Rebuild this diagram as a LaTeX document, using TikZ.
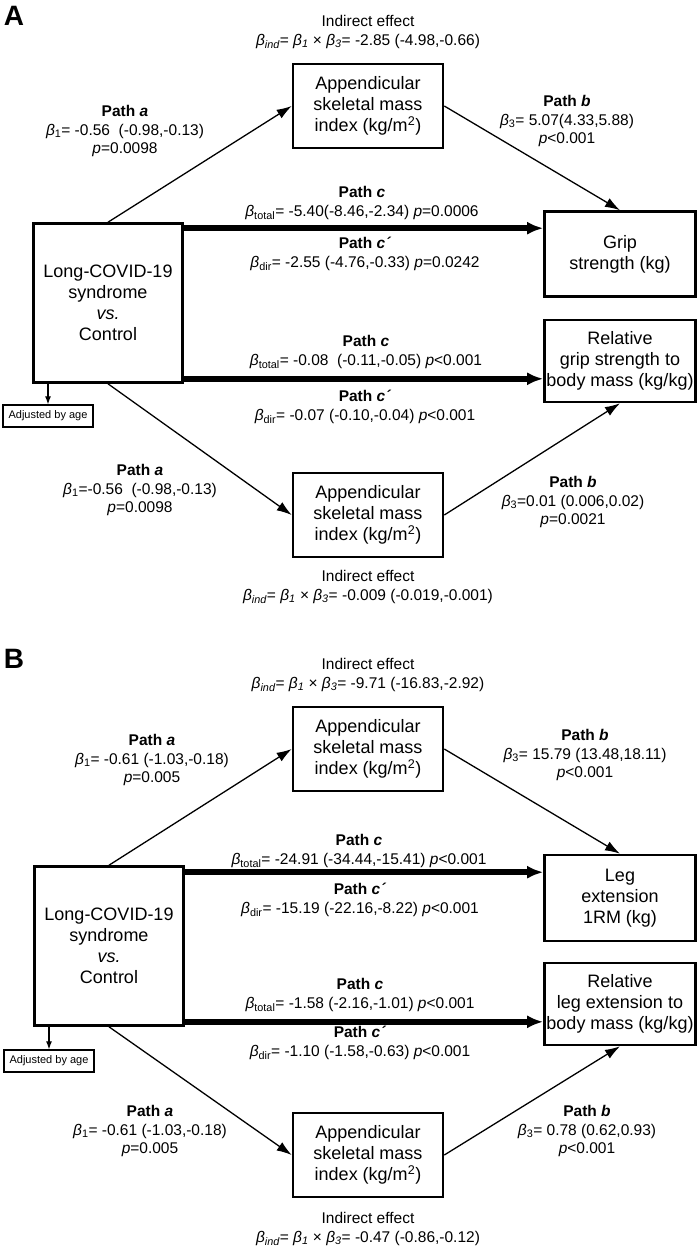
\documentclass[tikz,border=0pt]{standalone}
\usepackage{fontspec}
\setmainfont{Liberation Sans}
\usetikzlibrary{arrows.meta}
\newcommand{\bt}[1]{\textit{β}\textsubscript{#1}}
\newcommand{\bind}{\textit{β\textsubscript{ind}}= \textit{β\textsubscript{1}} × \textit{β\textsubscript{3}}=}
\begin{document}
\begin{tikzpicture}[x=1pt,y=-1pt]
			\tikzstyle{box} = [draw, line width=2.6pt, align=center, inner sep=0, font=\fontsize{18}{21}\selectfont]
			\tikzstyle{lbl} = [align=center, inner sep=0, font=\fontsize{15.5}{18.5}\selectfont]
			\tikzstyle{adjbox} = [draw, line width=1.3pt, inner sep=0, minimum width=90, minimum height=22, font=\fontsize{11}{11}\selectfont]
			\tikzstyle{patharrow} = [-{Latex[length=15pt,width=10pt]}, line width=1.3pt]
			\tikzstyle{bigarrow} = [-{Latex[length=16pt,width=13pt]}, line width=5.5pt]
			\tikzstyle{agearrow} = [-{Latex[length=8pt,width=6pt]}, line width=1.2pt]
			\tikzstyle{letter} = [inner sep=0, font=\fontsize{28}{28}\selectfont\bfseries]
			\useasboundingbox (0,0) rectangle (700,1250);
			\node [letter] (letA) at (14,16) {A};
			\node [box, minimum width=150, minimum height=84] (asmiTopA) at (368,106) {Appendicular\\skeletal mass\\index (kg/m\textsuperscript{2})};
			\node [box, minimum width=149, minimum height=159] (covidA) at (108,303) {Long-COVID-19\\syndrome\\\textit{vs.}\\Control};
			\node [box, minimum width=151, minimum height=85] (gripA) at (620,254) {Grip\\strength (kg)};
			\node [box, minimum width=151, minimum height=82] (relA) at (620,361) {Relative\\grip strength to\\body mass (kg/kg)};
			\node [box, minimum width=150, minimum height=84] (asmiBotA) at (368,515) {Appendicular\\skeletal mass\\index (kg/m\textsuperscript{2})};
			\node [adjbox] (adjA) at (48,416) {Adjusted by age};
			\node [lbl] (indTopA) at (368,32) {Indirect effect\\\bind{}  -2.85 (-4.98,-0.66)};
			\node [lbl] (paTopA) at (125,131) {\textbf{Path \textit{a}}\\\bt{1}= -0.56\ \ (-0.98,-0.13)\\\textit{p}=0.0098};
			\node [lbl] (pbTopA) at (567,121) {\textbf{Path \textit{b}}\\\bt{3}= 5.07(4.33,5.88)\\\textit{p}<0.001};
			\node [lbl] (pcA) at (362,203) {\textbf{Path \textit{c}}\\\bt{total}= -5.40(-8.46,-2.34) \textit{p}=0.0006};
			\node [lbl] (pcpA) at (365,254) {\textbf{Path \textit{c´}}\\\bt{dir}= -2.55 (-4.76,-0.33) \textit{p}=0.0242};
			\node [lbl] (pc2A) at (366,352) {\textbf{Path \textit{c}}\\\bt{total}= -0.08\ \ (-0.11,-0.05) \textit{p}<0.001};
			\node [lbl] (pcp2A) at (365,407) {\textbf{Path \textit{c´}}\\\bt{dir}= -0.07 (-0.10,-0.04) \textit{p}<0.001};
			\node [lbl] (paBotA) at (140,490) {\textbf{Path \textit{a}}\\\bt{1}=-0.56\ \ (-0.98,-0.13)\\\textit{p}=0.0098};
			\node [lbl] (pbBotA) at (573,502) {\textbf{Path \textit{b}}\\\bt{3}=0.01 (0.006,0.02)\\\textit{p}=0.0021};
			\node [lbl] (indBotA) at (368,587) {Indirect effect\\\bind{} -0.009 (-0.019,-0.001)};
			\coordinate (c1A) at ([yshift=-6pt]covidA.north east);
			\coordinate (c2A) at ([yshift=5pt]covidA.south east);
			\draw [patharrow] (covidA.north) -- (asmiTopA.west);
			\draw [patharrow] (asmiTopA.east) -- (gripA.north);
			\draw [bigarrow] (c1A) -- (c1A -| gripA.west);
			\draw [bigarrow] (c2A) -- (c2A -| relA.west);
			\draw [patharrow] (covidA.south) -- (asmiBotA.west);
			\draw [patharrow] (asmiBotA.east) -- (relA.south);
			\draw [agearrow] (covidA.south -| adjA.north) -- (adjA.north);
			\begin{scope}[yshift=-643pt]
			\node [letter] (letB) at (14,16) {B};
			\node [box, minimum width=150, minimum height=84] (asmiTopB) at (368,106) {Appendicular\\skeletal mass\\index (kg/m\textsuperscript{2})};
			\node [box, minimum width=149, minimum height=159] (covidB) at (109,303) {Long-COVID-19\\syndrome\\\textit{vs.}\\Control};
			\node [box, minimum width=151, minimum height=86] (legB) at (620,255) {Leg\\extension\\1RM (kg)};
			\node [box, minimum width=151, minimum height=82] (relB) at (620,361) {Relative\\leg extension to\\body mass (kg/kg)};
			\node [box, minimum width=150, minimum height=84] (asmiBotB) at (368,512) {Appendicular\\skeletal mass\\index (kg/m\textsuperscript{2})};
			\node [adjbox] (adjB) at (49,418) {Adjusted by age};
			\node [lbl] (indTopB) at (368,32) {Indirect effect\\\bind{} -9.71 (-16.83,-2.92)};
			\node [lbl] (paTopB) at (152,117) {\textbf{Path \textit{a}}\\\bt{1}= -0.61 (-1.03,-0.18)\\\textit{p}=0.005};
			\node [lbl] (pbTopB) at (585,112) {\textbf{Path \textit{b}}\\\bt{3}= 15.79 (13.48,18.11)\\\textit{p}<0.001};
			\node [lbl] (pcB) at (359,208) {\textbf{Path \textit{c}}\\\bt{total}= -24.91 (-34.44,-15.41) \textit{p}<0.001};
			\node [lbl] (pcpB) at (360,257) {\textbf{Path \textit{c´}}\\\bt{dir}= -15.19 (-22.16,-8.22) \textit{p}<0.001};
			\node [lbl] (pc2B) at (360,352) {\textbf{Path \textit{c}}\\\bt{total}= -1.58 (-2.16,-1.01) \textit{p}<0.001};
			\node [lbl] (pcp2B) at (360,400) {\textbf{Path \textit{c´}}\\\bt{dir}= -1.10 (-1.58,-0.63) \textit{p}<0.001};
			\node [lbl] (paBotB) at (150,488) {\textbf{Path \textit{a}}\\\bt{1}= -0.61 (-1.03,-0.18)\\\textit{p}=0.005};
			\node [lbl] (pbBotB) at (587,488) {\textbf{Path \textit{b}}\\\bt{3}= 0.78 (0.62,0.93)\\\textit{p}<0.001};
			\node [lbl] (indBotB) at (368,586) {Indirect effect\\\bind{} -0.47 (-0.86,-0.12)};
			\coordinate (c1B) at ([yshift=-7pt]covidB.north east);
			\coordinate (c2B) at ([yshift=5pt]covidB.south east);
			\draw [patharrow] (covidB.north) -- (asmiTopB.west);
			\draw [patharrow] (asmiTopB.east) -- (legB.north);
			\draw [bigarrow] (c1B) -- (c1B -| legB.west);
			\draw [bigarrow] (c2B) -- (c2B -| relB.west);
			\draw [patharrow] (covidB.south) -- (asmiBotB.west);
			\draw [patharrow] (asmiBotB.east) -- (relB.south);
			\draw [agearrow] (covidB.south -| adjB.north) -- (adjB.north);
			\end{scope}
			\end{tikzpicture}
\end{document}
